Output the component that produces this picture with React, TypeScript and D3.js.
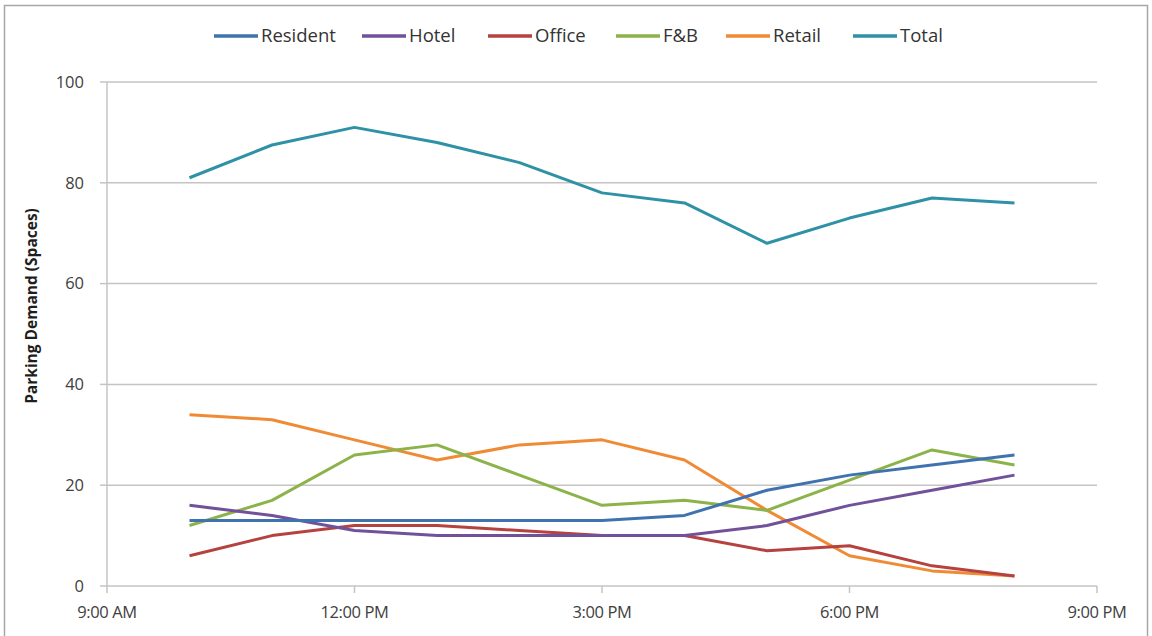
import React from "react";
import * as d3 from "d3";

const hours = [10, 11, 12, 13, 14, 15, 16, 17, 18, 19, 20];
const resident = [13, 13, 13, 13, 13, 13, 14, 19, 22, 24, 26];
const hotel = [16, 14, 11, 10, 10, 10, 10, 12, 16, 19, 22];
const office = [6, 10, 12, 12, 11, 10, 10, 7, 8, 4, 2];
const fnb = [12, 17, 26, 28, 22, 16, 17, 15, 21, 27, 24];
const retail = [34, 33, 29, 25, 28, 29, 25, 15, 6, 3, 2];
const total = [81, 87.5, 91, 88, 84, 78, 76, 68, 73, 77, 76];

const seriesNames = ["Resident", "Hotel", "Office", "F&B", "Retail", "Total"];
const seriesValues = [resident, hotel, office, fnb, retail, total];
const seriesColors = ["#3F72AF", "#70519A", "#B5423F", "#8CB34A", "#F08A35", "#2F91A6"];

const xTickHours = [9, 12, 15, 18, 21];
const xTickLabels = ["9:00 AM", "12:00 PM", "3:00 PM", "6:00 PM", "9:00 PM"];
const yTicks = [0, 20, 40, 60, 80, 100];

const legendX = [214, 362, 488, 616, 726, 853];

export default function App() {
  const W = 1152, H = 636;
  const left = 107, right = 1097, top = 82, bottom = 586;
  const x = d3.scaleLinear().domain([9, 21]).range([left, right]);
  const y = d3.scaleLinear().domain([0, 100]).range([bottom, top]);
  const line = d3.line<number>().x((_, i) => x(hours[i])).y((d) => y(d));
  const font = "'Open Sans', sans-serif";
  const drawOrder = [5, 4, 3, 2, 1, 0];

  return (
    <svg width={W} height={H} style={{ position: "absolute", left: 0, top: 0, background: "#fff" }} fontFamily={font}>
      <rect x={4.5} y={5.5} width={1143} height={640} fill="#fff" stroke="#a6a6a6" strokeWidth={1.5} />
      {yTicks.map((t) => (
        <g key={t}>
          {t > 0 && <line x1={left} x2={right} y1={y(t)} y2={y(t)} stroke="#c4c4c4" strokeWidth={1.5} />}
          <line x1={left - 7} x2={left} y1={y(t)} y2={y(t)} stroke="#c4c4c4" strokeWidth={1.5} />
          <text x={left - 23} y={y(t)} dy="0.35em" textAnchor="end" fontSize={16.5} fill="#404040">{t}</text>
        </g>
      ))}
      <line x1={left} x2={left} y1={top} y2={bottom} stroke="#c4c4c4" strokeWidth={1.5} />
      <line x1={left} x2={right} y1={bottom} y2={bottom} stroke="#c4c4c4" strokeWidth={1.5} />
      {xTickHours.map((h, i) => (
        <g key={h}>
          <line x1={x(h)} x2={x(h)} y1={bottom} y2={bottom + 7} stroke="#c4c4c4" strokeWidth={1.5} />
          <text x={x(h)} y={612} dy="0.35em" textAnchor="middle" fontSize={16.5} fill="#404040" letterSpacing={-0.4}>{xTickLabels[i]}</text>
        </g>
      ))}
      <text transform={`translate(32,306) rotate(-90)`} textAnchor="middle" dy="0.35em" fontSize={15.5} fontWeight="bold" fill="#1e1e1e">
        Parking Demand (Spaces)
      </text>
      {drawOrder.map((k) => (
        <path key={k} d={line(seriesValues[k]) || ""} fill="none" stroke={seriesColors[k]} strokeWidth={3} strokeLinejoin="round" />
      ))}
      {seriesNames.map((n, i) => (
        <g key={n}>
          <line x1={legendX[i]} x2={legendX[i] + 44} y1={36} y2={36} stroke={seriesColors[i]} strokeWidth={3.5} />
          <text x={legendX[i] + 47} y={36} dy="0.35em" fontSize={18.5} fill="#333">{n}</text>
        </g>
      ))}
    </svg>
  );
}
